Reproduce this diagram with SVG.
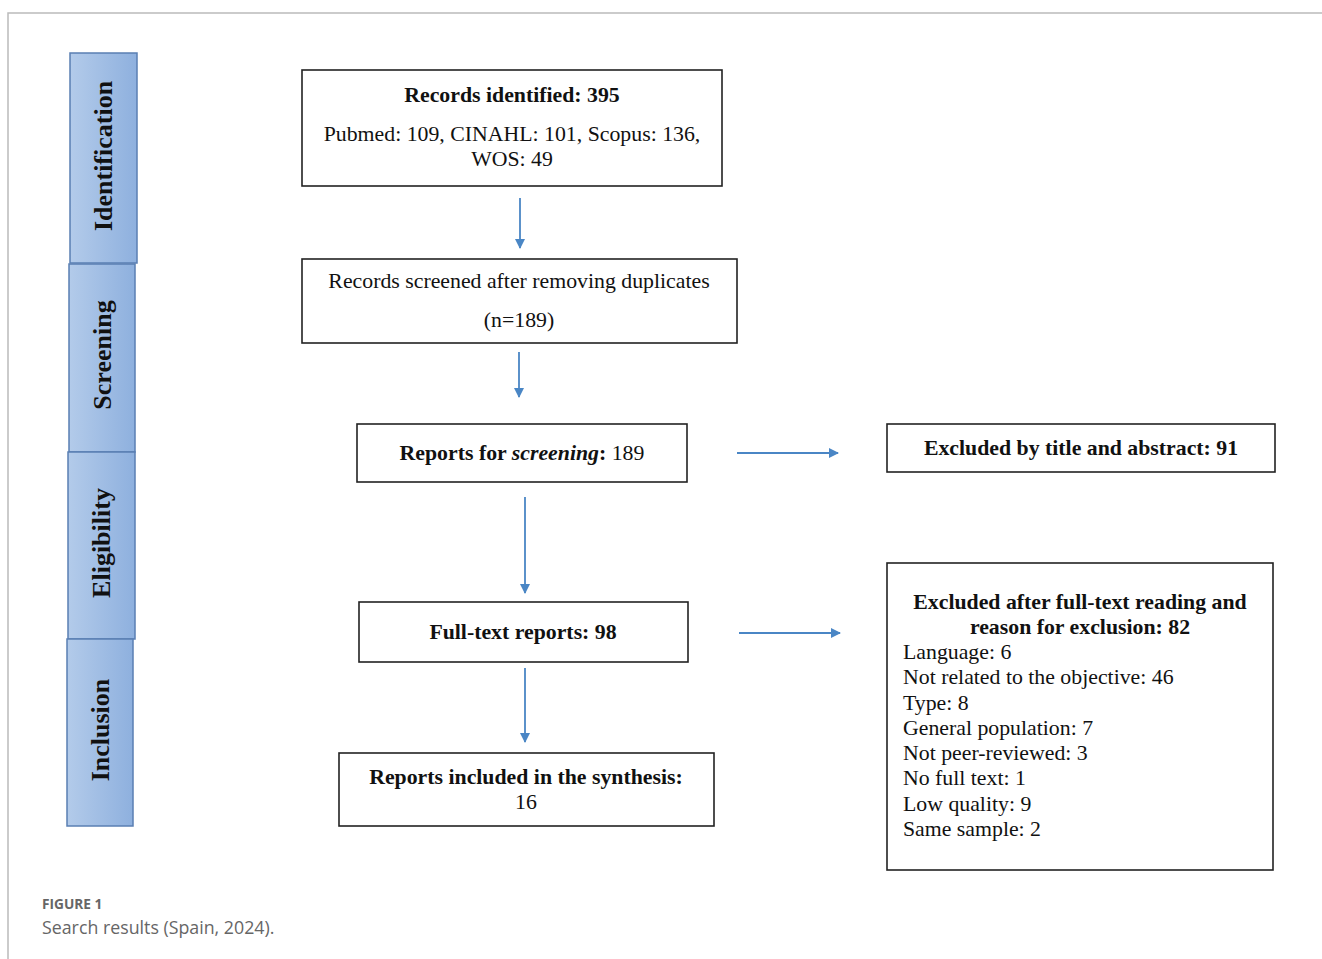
<svg xmlns="http://www.w3.org/2000/svg" width="1322" height="959" viewBox="0 0 1322 959">
<defs>
<linearGradient id="tabg" x1="0" y1="0" x2="1" y2="0">
<stop offset="0" stop-color="#b3cbea"/>
<stop offset="1" stop-color="#8eb0de"/>
</linearGradient>
<marker id="ah" markerWidth="10" markerHeight="10" refX="9" refY="5" orient="auto" markerUnits="userSpaceOnUse">
<path d="M0,0 L10,5 L0,10 z" fill="#4a86c5"/>
</marker>
<style>
.tab{fill:url(#tabg);stroke:#5a7fb3;stroke-width:1.5}
.box{fill:#fff;stroke:#222;stroke-width:1.6}
.t{font-family:"Liberation Serif","DejaVu Serif",serif;fill:#111;font-size:21.8px}
.b{font-weight:bold}
.tt{font-family:"Liberation Serif","DejaVu Serif",serif;font-weight:bold;font-size:26px;fill:#111}
.c{stroke:#4a86c5;stroke-width:1.8;fill:none;marker-end:url(#ah)}
.cap{font-family:"Open Sans","Lato",sans-serif;fill:#666}
</style>
</defs>
<path d="M1322,13 H8 V959" fill="none" stroke="#bbb" stroke-width="1.5"/>
<g id="tab-identification"><rect class="tab" x="70" y="53" width="67" height="210"/><text class="tt" transform="translate(112,156) rotate(-90)" text-anchor="middle">Identification</text></g>
<g id="tab-screening"><rect class="tab" x="69" y="264" width="66" height="188"/><text class="tt" transform="translate(111,355) rotate(-90)" text-anchor="middle">Screening</text></g>
<g id="tab-eligibility"><rect class="tab" x="68" y="452" width="67" height="187"/><text class="tt" transform="translate(110,543) rotate(-90)" text-anchor="middle">Eligibility</text></g>
<g id="tab-inclusion"><rect class="tab" x="67" y="639" width="66" height="187"/><text class="tt" transform="translate(109,730) rotate(-90)" text-anchor="middle">Inclusion</text></g>
<g id="n-identified"><rect class="box" x="302" y="70" width="420" height="116"/>
<text class="t b" x="512" y="102" text-anchor="middle">Records identified: 395</text>
<text class="t" x="512" y="141" text-anchor="middle">Pubmed: 109, CINAHL: 101, Scopus: 136,</text>
<text class="t" x="512" y="166" text-anchor="middle">WOS: 49</text></g>
<g id="n-screened"><rect class="box" x="302" y="259" width="435" height="84"/>
<text class="t" x="519" y="288" text-anchor="middle">Records screened after removing duplicates</text>
<text class="t" x="519" y="327" text-anchor="middle">(n=189)</text></g>
<g id="n-screening"><rect class="box" x="357" y="424" width="330" height="58"/>
<text class="t" x="522" y="460" text-anchor="middle"><tspan font-weight="bold">Reports for </tspan><tspan font-weight="bold" font-style="italic">screening</tspan><tspan font-weight="bold">:</tspan> 189</text></g>
<g id="n-excl-title"><rect class="box" x="887" y="424" width="388" height="48"/>
<text class="t b" x="1081" y="455" text-anchor="middle">Excluded by title and abstract: 91</text></g>
<g id="n-fulltext"><rect class="box" x="359" y="602" width="329" height="60"/>
<text class="t b" x="523" y="639" text-anchor="middle">Full-text reports: 98</text></g>
<g id="n-included"><rect class="box" x="339" y="753" width="375" height="73"/>
<text class="t b" x="526" y="784" text-anchor="middle">Reports included in the synthesis:</text>
<text class="t" x="526" y="809" text-anchor="middle">16</text></g>
<g id="n-excl-full"><rect class="box" x="887" y="563" width="386" height="307"/>
<text class="t b" x="1080" y="609" text-anchor="middle">Excluded after full-text reading and</text>
<text class="t b" x="1080" y="634" text-anchor="middle">reason for exclusion: 82</text>
<text class="t" x="903" y="659">Language: 6</text>
<text class="t" x="903" y="684">Not related to the objective: 46</text>
<text class="t" x="903" y="710">Type: 8</text>
<text class="t" x="903" y="735">General population: 7</text>
<text class="t" x="903" y="760">Not peer-reviewed: 3</text>
<text class="t" x="903" y="785">No full text: 1</text>
<text class="t" x="903" y="811">Low quality: 9</text>
<text class="t" x="903" y="836">Same sample: 2</text></g>
<g id="connectors">
<line class="c" x1="520" y1="198" x2="520" y2="248"/>
<line class="c" x1="519" y1="352" x2="519" y2="397"/>
<line class="c" x1="525" y1="497" x2="525" y2="593"/>
<line class="c" x1="525" y1="668" x2="525" y2="742"/>
<line class="c" x1="737" y1="453" x2="838" y2="453"/>
<line class="c" x1="739" y1="633" x2="840" y2="633"/>
</g>
<g id="caption">
<text class="cap" x="42" y="909" font-size="13.7" font-weight="bold">FIGURE 1</text>
<text class="cap" x="42" y="934" font-size="17.8">Search results (Spain, 2024).</text>
</g>
</svg>
